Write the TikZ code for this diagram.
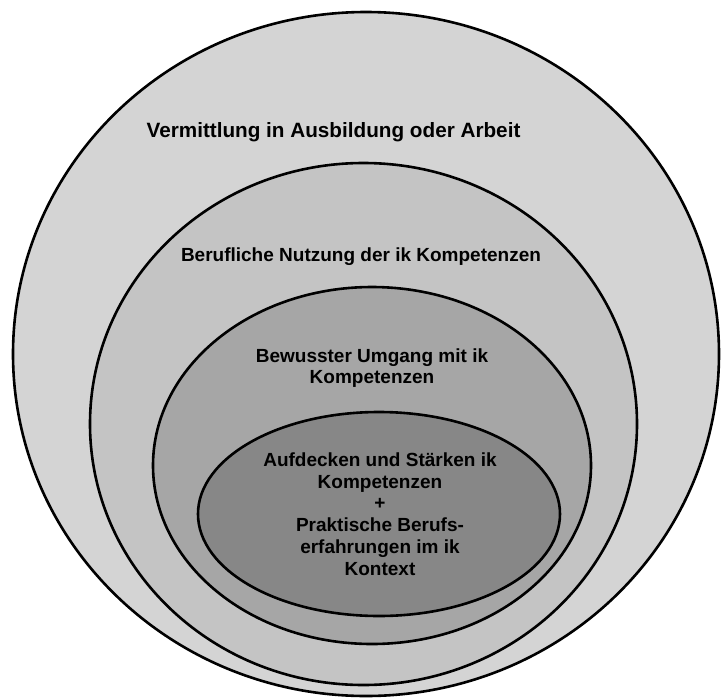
\documentclass[tikz,border=0pt]{standalone}
\usepackage{fontspec}
\setmainfont{Liberation Sans}
\begin{document}
\begin{tikzpicture}[x=1pt,y=-1pt,
  ring/.style={draw=black,line width=2.6pt},
  lbl/.style={font=\bfseries\fontsize{19}{21.7}\selectfont,align=center,inner sep=0pt}]
\useasboundingbox (0,0) rectangle (721,697);
\fill[white] (0,0) rectangle (721,697);
\draw[ring,fill={rgb,255:red,212;green,212;blue,212}] (366,354) ellipse [x radius=353,y radius=342];
\draw[ring,fill={rgb,255:red,196;green,196;blue,196}] (363.5,424) ellipse [x radius=273.5,y radius=261];
\draw[ring,fill={rgb,255:red,166;green,166;blue,166}] (372,465.5) ellipse [x radius=219,y radius=178.5];
\draw[ring,fill={rgb,255:red,135;green,135;blue,135}] (379,514) ellipse [x radius=181,y radius=102];
\node[lbl,font=\bfseries\fontsize{20.7}{24}\selectfont] (t1) at (333.5,132) {Vermittlung in Ausbildung oder Arbeit};
\node[lbl] (t2) at (361,257) {Berufliche Nutzung der ik Kompetenzen};
\node[lbl] (t3) at (372,368) {Bewusster Umgang mit ik\\Kompetenzen};
\node[lbl] (t4) at (380,514) {Aufdecken und Stärken ik\\Kompetenzen\\+\\Praktische Berufs-\\erfahrungen im ik\\Kontext};
\end{tikzpicture}
\end{document}
